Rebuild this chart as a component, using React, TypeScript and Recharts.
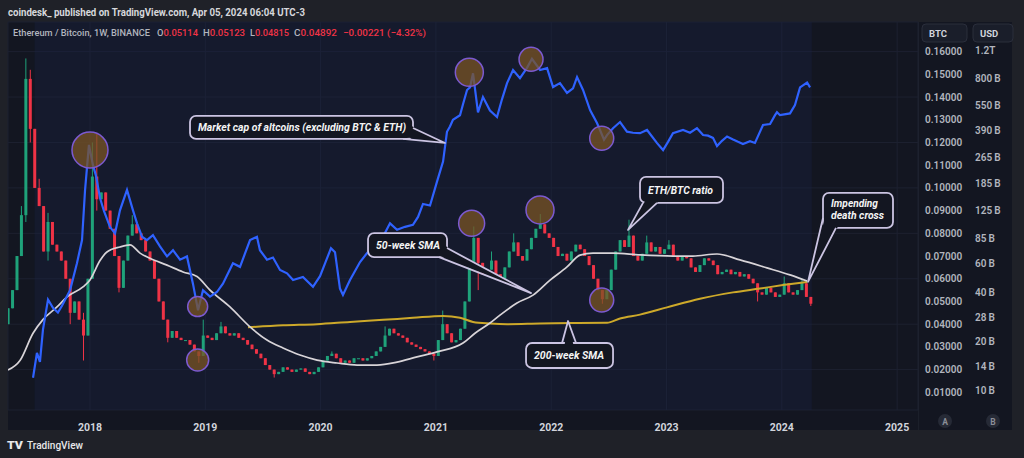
import {
  ComposedChart,
  Bar,
  Line,
  XAxis,
  YAxis,
  CartesianGrid,
  ReferenceArea,
  ReferenceDot,
} from "recharts";

// ETH/BTC candles, one per two weeks, first one mid-April 2017
const CANDLE_START = 2017.29;
const CANDLE_STEP = 1 / 26;
const firstOpen = 0.04;

const closes = [
  0.047, 0.055, 0.07, 0.088, 0.148, 0.126, 0.1, 0.092, 0.072, 0.085, 0.075, 0.072, 0.068,
  0.06, 0.045, 0.05, 0.042, 0.035, 0.06, 0.105, 0.095, 0.098, 0.09, 0.082, 0.07, 0.056,
  0.068, 0.079, 0.084, 0.08, 0.077, 0.072, 0.068, 0.06, 0.05, 0.042, 0.034, 0.037, 0.034,
  0.033, 0.033, 0.031, 0.028, 0.026, 0.035, 0.034, 0.033, 0.036, 0.039, 0.036, 0.035, 0.036,
  0.034, 0.033, 0.031, 0.029, 0.027, 0.025, 0.022, 0.02, 0.018, 0.019, 0.021, 0.02, 0.019,
  0.02, 0.0205, 0.019, 0.018, 0.019, 0.021, 0.024, 0.026, 0.027, 0.025, 0.023, 0.024, 0.023,
  0.025, 0.025, 0.024, 0.025, 0.026, 0.028, 0.03, 0.035, 0.038, 0.036, 0.035, 0.034, 0.032,
  0.031, 0.03, 0.029, 0.028, 0.027, 0.026, 0.033, 0.04, 0.036, 0.032, 0.033, 0.038, 0.05,
  0.065, 0.078, 0.067, 0.062, 0.064, 0.068, 0.062, 0.06, 0.065, 0.072, 0.076, 0.07, 0.068,
  0.073, 0.078, 0.082, 0.084, 0.08, 0.078, 0.074, 0.07, 0.071, 0.068, 0.072, 0.075, 0.073,
  0.07, 0.066, 0.06, 0.055, 0.051, 0.055, 0.064, 0.072, 0.077, 0.074, 0.079, 0.07, 0.068,
  0.071, 0.076, 0.072, 0.074, 0.071, 0.073, 0.075, 0.07, 0.068, 0.07, 0.069, 0.065, 0.063,
  0.066, 0.069, 0.068, 0.066, 0.062, 0.063, 0.064, 0.062, 0.063, 0.061, 0.062, 0.06, 0.058,
  0.054, 0.053, 0.056, 0.054, 0.052, 0.053, 0.058, 0.054, 0.053, 0.055, 0.058, 0.052, 0.049,
];

// [candle index, high, low] where the wick pokes out of the body
const wicks: [number, number | null, number | null][] = [
  [3, 0.092, null], [4, 0.157, 0.085], [5, 0.152, 0.12], [7, 0.104, null],
  [9, 0.089, 0.068], [14, null, 0.04], [17, 0.045, 0.024], [19, 0.12, null],
  [20, 0.124, 0.09], [25, null, 0.054], [28, 0.088, null], [36, null, 0.032],
  [43, null, 0.023], [44, 0.042, null], [48, 0.041, null], [60, null, 0.0165],
  [73, 0.028, null], [85, 0.039, null], [96, null, 0.024], [98, 0.046, null],
  [105, 0.083, null], [106, null, 0.055], [109, 0.072, null], [114, 0.08, null],
  [120, 0.0885, null], [134, null, 0.049], [140, 0.086, null], [144, 0.079, null],
  [149, 0.077, null], [169, null, 0.05], [175, 0.061, null], [179, 0.06, null],
  [181, null, 0.048],
];

// altcoin market cap excl. BTC & ETH, billions USD
const altcoinCap: [number, number][] = [
  [2017.506, 12], [2017.54, 17], [2017.566, 15], [2017.592, 23.5], [2017.636, 36],
  [2017.679, 32], [2017.722, 30], [2017.757, 33], [2017.827, 41], [2017.887, 60],
  [2017.931, 83], [2017.957, 167], [2017.991, 316], [2018.026, 238], [2018.052, 205],
  [2018.087, 150], [2018.121, 125], [2018.173, 100], [2018.217, 91], [2018.26, 126],
  [2018.321, 168], [2018.373, 126], [2018.408, 105], [2018.451, 87], [2018.494, 83],
  [2018.546, 89], [2018.607, 76], [2018.668, 66], [2018.72, 72], [2018.781, 63],
  [2018.841, 66], [2018.893, 45], [2018.937, 31], [2018.98, 41], [2019.041, 37.5],
  [2019.101, 40], [2019.153, 45], [2019.24, 60], [2019.301, 57], [2019.388, 83],
  [2019.448, 87], [2019.474, 72], [2019.535, 63], [2019.587, 65], [2019.648, 54.5],
  [2019.709, 52], [2019.761, 47.4], [2019.847, 49.4], [2019.934, 43], [2019.995, 50],
  [2020.047, 62], [2020.09, 74], [2020.125, 70], [2020.168, 42], [2020.194, 38.4],
  [2020.255, 47.4], [2020.342, 61], [2020.402, 69], [2020.472, 78], [2020.541, 87],
  [2020.602, 105], [2020.663, 96], [2020.732, 100], [2020.801, 103], [2020.845, 115],
  [2020.888, 138], [2020.949, 135], [2021.009, 188], [2021.062, 250], [2021.096, 380],
  [2021.122, 410], [2021.148, 450], [2021.209, 480], [2021.235, 560], [2021.27, 684],
  [2021.296, 710], [2021.322, 865], [2021.365, 500], [2021.408, 620], [2021.469, 513],
  [2021.53, 468], [2021.573, 600], [2021.617, 753], [2021.669, 906], [2021.729, 807],
  [2021.79, 933], [2021.833, 1060], [2021.903, 906], [2021.964, 930], [2022.016, 713],
  [2022.076, 753], [2022.137, 656], [2022.189, 700], [2022.224, 820], [2022.276, 684],
  [2022.337, 516], [2022.397, 430], [2022.423, 390], [2022.458, 340], [2022.484, 363],
  [2022.536, 400], [2022.597, 436], [2022.657, 381], [2022.709, 375], [2022.77, 373],
  [2022.831, 390], [2022.918, 324], [2022.97, 294], [2023.013, 330], [2023.056, 373],
  [2023.143, 390], [2023.204, 375], [2023.264, 400], [2023.317, 363], [2023.36, 360],
  [2023.403, 349], [2023.438, 311], [2023.481, 335], [2023.525, 356], [2023.577, 341],
  [2023.62, 330], [2023.663, 320], [2023.724, 333], [2023.767, 325], [2023.837, 418],
  [2023.898, 424], [2023.941, 480], [2023.958, 500], [2023.984, 480], [2024.071, 492],
  [2024.114, 553], [2024.158, 710], [2024.219, 760], [2024.245, 710],
];

const sma50: [number, number][] = [
  [2017.289, 0.0198], [2017.393, 0.024], [2017.506, 0.036], [2017.592, 0.042],
  [2017.714, 0.0476], [2017.801, 0.052], [2017.939, 0.0564], [2018.0, 0.0595],
  [2018.087, 0.068], [2018.147, 0.0718], [2018.26, 0.074], [2018.347, 0.0749],
  [2018.434, 0.0713], [2018.52, 0.069], [2018.668, 0.066], [2018.807, 0.063],
  [2018.928, 0.061], [2019.041, 0.055], [2019.214, 0.0476], [2019.388, 0.0388],
  [2019.535, 0.033], [2019.674, 0.0295], [2019.821, 0.0264], [2019.969, 0.0242],
  [2020.142, 0.0229], [2020.316, 0.022], [2020.489, 0.022], [2020.663, 0.0233],
  [2020.836, 0.0256], [2021.009, 0.0278], [2021.235, 0.0317], [2021.339, 0.036],
  [2021.469, 0.0405], [2021.556, 0.044], [2021.703, 0.0493], [2021.842, 0.0528],
  [2021.99, 0.0594], [2022.137, 0.0652], [2022.25, 0.0704], [2022.363, 0.0713],
  [2022.536, 0.0713], [2022.77, 0.0705], [2023.056, 0.07], [2023.229, 0.07],
  [2023.438, 0.0709], [2023.637, 0.0683], [2023.871, 0.0648], [2024.071, 0.0617],
  [2024.219, 0.059],
];

const sma200: [number, number][] = [
  [2019.37, 0.0386], [2019.674, 0.0395], [2019.969, 0.04], [2020.255, 0.041],
  [2020.541, 0.0419], [2020.801, 0.0428], [2021.062, 0.0436], [2021.209, 0.0428],
  [2021.322, 0.041], [2021.469, 0.0403], [2021.617, 0.04], [2021.903, 0.0403],
  [2022.189, 0.0405], [2022.484, 0.0406], [2022.597, 0.0425], [2022.77, 0.0442],
  [2023.004, 0.0474], [2023.29, 0.0512], [2023.577, 0.054], [2023.811, 0.0557],
  [2024.01, 0.0572], [2024.219, 0.0586],
];

const years = [2018, 2019, 2020, 2021, 2022, 2023, 2024, 2025];
const btcTicks = [0.01, 0.02, 0.03, 0.04, 0.05, 0.06, 0.07, 0.08, 0.09, 0.1, 0.11, 0.12, 0.13, 0.14, 0.15, 0.16];
const usdTicks = [10, 14, 20, 28, 40, 60, 85, 125, 185, 265, 390, 550, 800, 1200];

// last bar's OHLC as shown in the legend
const ohlcLabels = ["O", "H", "L", "C"];
const ohlcValues = ["0.05114", "0.05123", "0.04815", "0.04892"];

// circled spots: [time, value]
const usdRings: [number, number][] = [
  [2018.0, 294], [2018.934, 32.6], [2021.29, 877], [2021.825, 1052], [2022.438, 347],
];
const btcRings: [number, number][] = [
  [2018.934, 0.0242], [2021.31, 0.0844], [2021.903, 0.0903], [2022.438, 0.0506],
];
const usdRingRadius = [18, 10, 14, 12, 12];
const btcRingRadius = [11, 13, 14, 12];

const T_MIN = 2017.289;
const T_MAX = 2025.181;
const BTC_DOMAIN: [number, number] = [0.00221, 0.17305];
const USD_DOMAIN: [number, number] = [7.625, 1778];

const UP = "#1fa27a";
const DOWN = "#ef3346";
const BG = "#1f2128";
const PANEL = "#131621";
const GRID = "#1d2130";
const AXIS_TEXT = "#b2b5be";
const FONT = "Roboto, 'Noto Sans', sans-serif";
const BOX_FILL = "#131621";
const BOX_LINE = "#cbc4e2";
const BODY_W = 3;

const candles = closes.map((c, i) => {
  const o = i === 0 ? firstOpen : closes[i - 1];
  const w = wicks.find((k) => k[0] === i);
  const h = Math.max(o, c, w && w[1] != null ? w[1] : 0);
  const l = Math.min(o, c, w && w[2] != null ? w[2] : Infinity);
  return { t: CANDLE_START + i * CANDLE_STEP, o, c, h, l, range: [l, h] };
});

const toRows = (pairs: [number, number][]) => pairs.map(([t, v]) => ({ t, v }));

function Candle(props: any) {
  const { x, y, width, height } = props;
  const p = props.payload || props;
  if (p == null || p.o == null || x == null) return null;
  const top = Math.min(y, y + height);
  const full = Math.abs(height);
  const span = p.h - p.l || 1;
  const toY = (v: number) => top + ((p.h - v) / span) * full;
  const color = p.c >= p.o ? UP : DOWN;
  const bTop = toY(Math.max(p.o, p.c));
  const bBot = toY(Math.min(p.o, p.c));
  const mid = x + (width || 0) / 2;
  return (
    <g>
      <line x1={mid} x2={mid} y1={top} y2={top + full} stroke={color} strokeWidth={1} />
      <rect x={mid - BODY_W / 2} y={bTop} width={BODY_W} height={Math.max(1, bBot - bTop)} fill={color} />
    </g>
  );
}

type CalloutSpec = {
  lines: string[];
  widths: number[];
  at: [number, number];
  axis: "btc" | "usd";
  box: [number, number, number, number];
  base: [[number, number], [number, number]];
};

const callouts: CalloutSpec[] = [
  {
    lines: ["Market cap of altcoins (excluding BTC & ETH)"],
    widths: [208],
    at: [2021.079, 325],
    axis: "usd",
    box: [-255, -27, 223, 23],
    base: [[-32, -15], [-42, -4]],
  },
  {
    lines: ["50-week SMA"],
    widths: [64],
    at: [2021.825, 0.0537],
    axis: "btc",
    box: [-163, -60, 79, 24],
    base: [[-84, -45], [-92, -36]],
  },
  {
    lines: ["ETH/BTC ratio"],
    widths: [65],
    at: [2022.666, 0.0815],
    axis: "btc",
    box: [12, -53, 83, 26],
    base: [[15, -27], [29, -27]],
  },
  {
    lines: ["Impending", "death cross"],
    widths: [47, 53],
    at: [2024.227, 0.0586],
    axis: "btc",
    box: [15, -89, 70, 35],
    base: [[15, -64], [28, -54]],
  },
  {
    lines: ["200-week SMA"],
    widths: [70],
    at: [2022.146, 0.0414],
    axis: "btc",
    box: [-42, 22, 87, 25],
    base: [[-6, 22], [8, 22]],
  },
];

function Callout({ cx, cy, spec }: { cx: number; cy: number; spec: CalloutSpec }) {
  if (cx == null || cy == null) return null;
  const [dx, dy, w, h] = spec.box;
  const bx = cx + dx;
  const by = cy + dy;
  const midX = bx + w / 2;
  const midY = by + h / 2;
  const pts = spec.base.map(([px, py]) => [cx + px, cy + py]);
  const inner = pts.map(([px, py]) => [px + Math.sign(midX - px) * 2.5, py + Math.sign(midY - py) * 2.5]);
  return (
    <g>
      <rect x={bx} y={by} width={w} height={h} rx={6} fill={BOX_FILL} stroke={BOX_LINE} strokeWidth={1.8} />
      <polygon
        points={`${cx},${cy} ${inner[0][0]},${inner[0][1]} ${inner[1][0]},${inner[1][1]}`}
        fill={BOX_FILL}
      />
      <polyline
        points={`${pts[0][0]},${pts[0][1]} ${cx},${cy} ${pts[1][0]},${pts[1][1]}`}
        fill="none"
        stroke={BOX_LINE}
        strokeWidth={1.8}
        strokeLinejoin="round"
      />
      {spec.lines.map((line, i) => (
        <text
          key={line}
          x={bx + 8}
          y={spec.lines.length === 1 ? midY + 3.8 : by + 14 + i * 12.5}
          fill="#f4f4f4"
          fontSize={10.5}
          fontWeight={700}
          fontStyle="italic"
          fontFamily={FONT}
          textLength={spec.widths[i]}
          lengthAdjust="spacingAndGlyphs"
        >
          {line}
        </text>
      ))}
    </g>
  );
}

function Overlay() {
  const ohlcX = [157, 203, 250, 294];
  const ohlcW = [41, 42, 39, 43];
  return (
    <svg width={1024} height={458} style={{ position: "absolute", left: 0, top: 0, pointerEvents: "none" }}>
      <text x={8} y={16} fill="#d6d7db" fontSize={10.5} fontWeight={700} fontFamily={FONT} textLength={297} lengthAdjust="spacingAndGlyphs">
        coindesk_ published on TradingView.com, Apr 05, 2024 06:04 UTC-3
      </text>
      <text x={13} y={35.5} fill={AXIS_TEXT} fontSize={9} fontWeight={500} fontFamily={FONT} textLength={137} lengthAdjust="spacingAndGlyphs">
        Ethereum / Bitcoin, 1W, BINANCE
      </text>
      {ohlcLabels.map((k, i) => (
        <text key={k} x={ohlcX[i]} y={35.5} fontSize={9.5} fontWeight={500} fontFamily={FONT} textLength={ohlcW[i]} lengthAdjust="spacingAndGlyphs">
          <tspan fill={AXIS_TEXT}>{k}</tspan>
          <tspan fill={DOWN}>{ohlcValues[i]}</tspan>
        </text>
      ))}
      <text x={343} y={35.5} fill={DOWN} fontSize={9.5} fontWeight={500} fontFamily={FONT} textLength={83} lengthAdjust="spacingAndGlyphs">
        {"\u22120.00221 (\u22124.32%)"}
      </text>
      <rect x={922} y={24} width={45} height={18} rx={4} fill="#1a1e2a" stroke="#2a2e3b" />
      <text x={929} y={36.5} fill="#d1d4dc" fontSize={9.5} fontWeight={700} fontFamily={FONT}>BTC</text>
      <rect x={973} y={24} width={40} height={18} rx={4} fill="#1a1e2a" stroke="#2a2e3b" />
      <text x={980} y={36.5} fill="#d1d4dc" fontSize={9.5} fontWeight={700} fontFamily={FONT}>USD</text>
      <line x1={918.5} x2={918.5} y1={22} y2={430} stroke="#23273380" />
      <circle cx={945} cy={421} r={7} fill="#262a36" />
      <text x={945} y={424.5} textAnchor="middle" fill="#8b8e98" fontSize={8.5} fontWeight={700} fontFamily={FONT}>A</text>
      <circle cx={993} cy={421} r={7} fill="#262a36" />
      <text x={993} y={424.5} textAnchor="middle" fill="#8b8e98" fontSize={8.5} fontWeight={700} fontFamily={FONT}>B</text>
      <text x={7} y={449} fill="#e8e8ea" fontSize={10} fontWeight={900} fontFamily={FONT} textLength={16} lengthAdjust="spacingAndGlyphs">TV</text>
      <text x={27} y={449} fill="#e8e8ea" fontSize={10.5} fontWeight={500} fontFamily={FONT} textLength={56} lengthAdjust="spacingAndGlyphs">TradingView</text>
    </svg>
  );
}

export default function App() {
  return (
    <div style={{ position: "relative", width: 1024, height: 458, background: BG, overflow: "hidden" }}>
      <style>{"body{margin:0;background:" + BG + "}"}</style>
      <div style={{ position: "absolute", left: 8, top: 22, width: 1004, height: 408, background: PANEL }} />
      <ComposedChart
        width={1024}
        height={458}
        data={candles}
        margin={{ top: 22, left: 8, right: 6, bottom: 28 }}
        style={{ position: "absolute", left: 0, top: 0 }}
      >
        <ReferenceArea x1={2017.52} x2={2024.26} fill="#1b2448" fillOpacity={0.3} stroke="none" ifOverflow="hidden" />
        <CartesianGrid stroke={GRID} strokeWidth={1} />
        <XAxis
          dataKey="t"
          type="number"
          domain={[T_MIN, T_MAX]}
          allowDataOverflow
          ticks={years}
          tickFormatter={(v: number) => String(v)}
          axisLine={false}
          tickLine={false}
          tickMargin={8}
          height={20}
          tick={{ fill: "#d1d4dc", fontSize: 10.5, fontWeight: 700, fontFamily: FONT }}
        />
        <YAxis
          orientation="right"
          domain={BTC_DOMAIN}
          allowDataOverflow
          ticks={btcTicks}
          tickFormatter={(v: number) => v.toFixed(5)}
          axisLine={false}
          tickLine={false}
          tickSize={4}
          tickMargin={3}
          width={50}
          tick={{ fill: AXIS_TEXT, fontSize: 10, fontWeight: 600, fontFamily: FONT }}
        />
        <YAxis
          yAxisId="usd"
          orientation="right"
          scale="log"
          domain={USD_DOMAIN}
          allowDataOverflow
          ticks={usdTicks}
          tickFormatter={(v: number) => (v >= 1000 ? `${v / 1000}T` : `${v}\u2009B`)}
          axisLine={false}
          tickLine={false}
          tickSize={4}
          tickMargin={3}
          width={50}
          tick={{ fill: AXIS_TEXT, fontSize: 10, fontWeight: 600, fontFamily: FONT }}
        />
        <Bar dataKey="range" barSize={3} isAnimationActive={false} shape={(p: any) => <Candle {...p} />} />
        <Line
          data={toRows(sma200)}
          dataKey="v"
          type="monotone"
          stroke="#cda92a"
          strokeWidth={2}
          dot={false}
          activeDot={false}
          isAnimationActive={false}
        />
        <Line
          data={toRows(sma50)}
          dataKey="v"
          type="monotone"
          stroke="#d8d4d8"
          strokeWidth={1.7}
          dot={false}
          activeDot={false}
          isAnimationActive={false}
        />
        <Line
          yAxisId="usd"
          data={toRows(altcoinCap)}
          dataKey="v"
          type="linear"
          stroke="#2f62ff"
          strokeWidth={2.2}
          dot={false}
          activeDot={false}
          isAnimationActive={false}
        />
        {usdRings.map(([t, v], i) => (
          <ReferenceDot
            key={"u" + i}
            yAxisId="usd"
            x={t}
            y={v}
            r={usdRingRadius[i]}
            fill="#7a5424"
            fillOpacity={0.75}
            stroke="#7c5ad0"
            strokeWidth={1.5}
          />
        ))}
        {btcRings.map(([t, v], i) => (
          <ReferenceDot
            key={"b" + i}
            x={t}
            y={v}
            r={btcRingRadius[i]}
            fill="#7a5424"
            fillOpacity={0.75}
            stroke="#7c5ad0"
            strokeWidth={1.5}
          />
        ))}
        {callouts.map((c, i) => (
          <ReferenceDot
            key={"c" + i}
            yAxisId={c.axis === "usd" ? "usd" : 0}
            x={c.at[0]}
            y={c.at[1]}
            r={1}
            shape={(p: any) => <Callout cx={p.cx} cy={p.cy} spec={c} />}
          />
        ))}
      </ComposedChart>
      <Overlay />
    </div>
  );
}
